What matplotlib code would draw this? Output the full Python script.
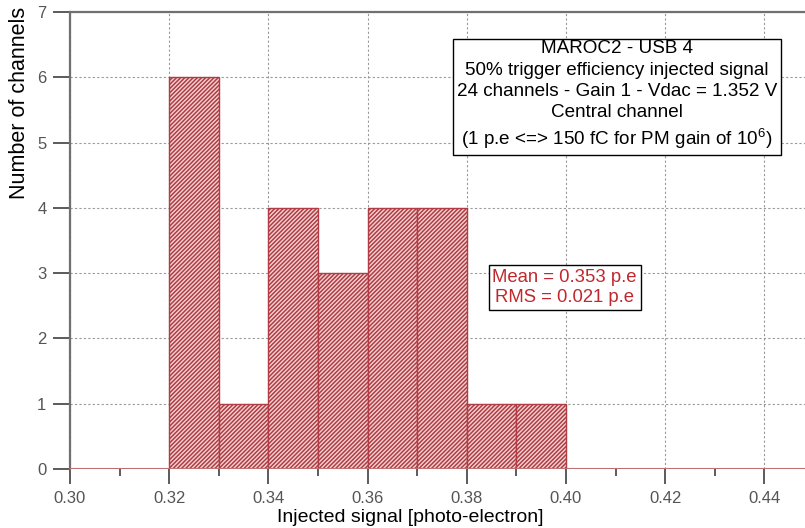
import numpy as np
import matplotlib
matplotlib.use("Agg")
import matplotlib.pyplot as plt
from matplotlib.ticker import MultipleLocator

# histogram of the 50% trigger efficiency point per channel
bin_edges = [0.32, 0.33, 0.34, 0.35, 0.36, 0.37, 0.38, 0.39, 0.40]
counts = [6, 1, 4, 3, 4, 4, 1, 1]

title_lines = [
    "MAROC2 - USB 4",
    "50% trigger efficiency injected signal",
    "24 channels - Gain 1 - Vdac = 1.352 V",
    "Central channel",
    "(1 p.e <=> 150 fC for PM gain of 10$^{6}$)",
]
stats_lines = ["Mean = 0.353 p.e", "RMS = 0.021 p.e"]

plt.rcParams['font.family'] = ['Liberation Sans', 'DejaVu Sans']
plt.rcParams['mathtext.fontset'] = 'custom'
plt.rcParams['mathtext.rm'] = 'Liberation Sans'
plt.rcParams['mathtext.it'] = 'Liberation Sans'
plt.rcParams['hatch.linewidth'] = 1.1

fig = plt.figure(figsize=(8.05, 5.28), dpi=100)
ax = fig.add_axes([70/805, (528-469)/528, 1 - 70/805, (469-12)/528])

edges = np.array(bin_edges)
widths = np.diff(edges)
ax.bar(edges[:-1], counts, width=widths, align='edge',
       facecolor='#f4d4d4', edgecolor='#b03c44', hatch='////////',
       linewidth=1.0, zorder=2)
ax.axhline(0, color='#c07070', lw=1.5, zorder=3)

ax.set_xlim(0.30, 0.4482)
ax.set_ylim(0, 7)
ax.xaxis.set_major_locator(MultipleLocator(0.02))
ax.xaxis.set_minor_locator(MultipleLocator(0.01))
ax.yaxis.set_major_locator(MultipleLocator(1))
ax.xaxis.set_major_formatter(matplotlib.ticker.FormatStrFormatter('%.2f'))

ax.grid(True, which='major', linestyle=(0, (2, 2)), color='#999999', lw=0.8, zorder=0)
ax.set_axisbelow(True)

for s in ['right', 'bottom']:
    ax.spines[s].set_visible(False)
ax.spines['left'].set_color('#707070')
ax.spines['left'].set_linewidth(1.6)
ax.spines['top'].set_color('#707070')
ax.spines['top'].set_linewidth(1.6)

ax.tick_params(axis='x', which='major', length=11, width=1.2, color='#404040',
               labelsize=12, labelcolor='#555555', pad=5)
ax.tick_params(axis='x', which='minor', length=5, width=1.2, color='#404040')
ax.tick_params(axis='y', which='major', length=12, width=1.2, color='#404040',
               labelsize=12, labelcolor='#555555', pad=5)

ax.set_xlabel("Injected signal [photo-electron]", fontsize=14)
ax.xaxis.label.set_va('center')
ax.xaxis.set_label_coords((410 - 70) / 735, -(517 - 469) / 457)
ax.set_ylabel("Number of channels", fontsize=15.5)
ax.yaxis.label.set_va('center')
ax.yaxis.set_label_coords(-(70 - 20) / 735, 0.80)

ax.text(0.744, 0.817, "\n".join(title_lines), transform=ax.transAxes,
        ha='center', va='center', fontsize=13.6, linespacing=1.32, zorder=5,
        bbox=dict(boxstyle='square,pad=0.2', facecolor='white', edgecolor='black', lw=1.0))

ax.text(0.673, 0.397, "\n".join(stats_lines), transform=ax.transAxes,
        ha='center', va='center', fontsize=13.3, color='#c0282e', linespacing=1.25, zorder=5,
        bbox=dict(boxstyle='square,pad=0.2', facecolor='white', edgecolor='black', lw=1.0))

fig.savefig("out.png", dpi=100)
